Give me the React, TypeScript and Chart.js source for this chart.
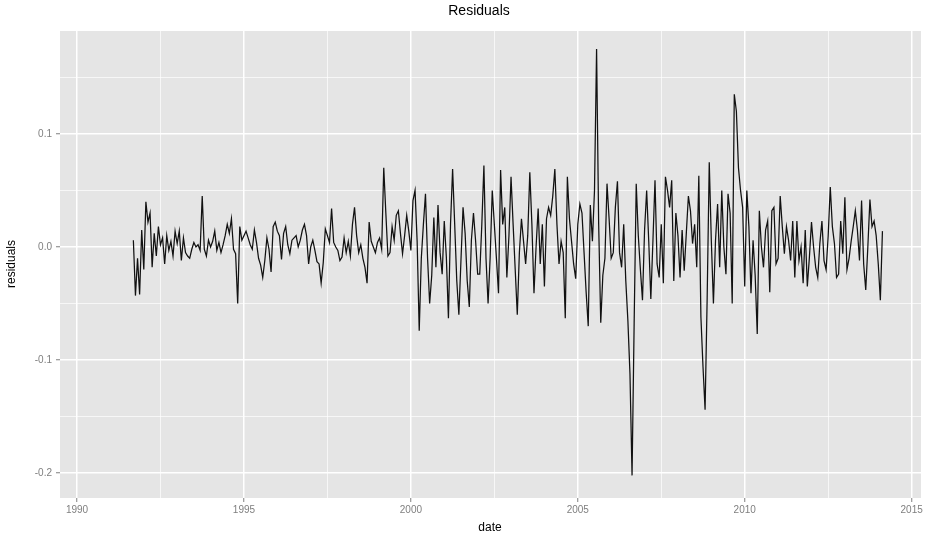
import React, { useEffect, useRef } from 'react';
import { Chart, registerables } from 'chart.js';

Chart.register(...registerables);

// Residual series (in thousandths), regularly spaced 16 steps per year
const START_YEAR = 1991.6875;
const STEPS_PER_YEAR = 16;
const residualsMilli: number[] = [
  // 1991
  6, -43, -10, -42, 15, -20,
  // 1992
  40, 22, 30, -18, 12, -8, 18, 2, 8, -15, 10, -3, 5, -8, 14, 3,
  // 1993
  14, -12, 8, -5, -8, -10, -2, 4, 0, 2, -3, 45, -2, -8, 6, 0,
  // 1994
  5, 14, -3, 4, -5, 2, 10, 20, 12, 25, -2, -6, -50, 18, 6, 10,
  // 1995
  14, 8, 2, -2, 15, 4, -10, -16, -27, -12, 8, -2, -22, 18, 22, 14,
  // 1996
  10, -11, 12, 18, 2, -6, 6, 8, 10, 0, 6, 15, 20, 10, -15, 0,
  // 1997
  6, -3, -13, -15, -32, -14, 16, 10, 4, 34, 4, 0, -3, -12, -9, 8,
  // 1998
  -5, 5, -8, 20, 35, 10, -5, 2, -10, -18, -32, 22, 5, 0, -5, 4,
  // 1999
  8, -2, 70, 30, -8, -5, 18, 6, 28, 32, 12, -6, 10, 28, 14, -3,
  // 2000
  41, 50, 5, -74, -10, 20, 47, -10, -50, -25, 26, -18, 37, -5, -24, 23,
  // 2001
  -9, -63, 20, 69, 20, -30, -60, -12, 35, 12, -30, -53, 6, 30, 6, -24,
  // 2002
  -24, 20, 72, -10, -50, -9, 50, 20, -10, -41, 68, 20, 35, -27, 10,
  // 2003
  62, 20, -20, -60, -5, 25, 5, -15, 10, 66, 20, -41, 0, 34, -15, 20,
  // 2004
  -35, 25, 35, 28, 45, 69, 20, -15, 5, -5, -63, 62, 25, 5, -15, -28,
  // 2005
  20, 38, 30, -5, -40, -70, 37, 5, 50, 175, 20, -67, -25, -10, 56, 25,
  // 2006
  -10, -5, 35, 58, -5, -18, 20, -30, -65, -112, -202, -68, 56, 10, -20, -47,
  // 2007
  15, 50, 5, -46, 5, 59, -15, -27, 20, -32, 62, 50, 35, 59, -30, 30,
  // 2008
  10, -27, 15, -21, 12, 45, 32, 3, 20, -18, 63, -62, -106, -144, -45, 75,
  // 2009
  5, -50, 6, 38, -18, 50, 0, -24, 47, 30, -50, 135, 120, 70, 50, 35,
  // 2010
  -35, 50, 18, -41, 6, -25, -77, 32, 0, -18, 15, 23, -40, 32, 35, -15,
  // 2011
  -10, 45, 18, -6, 18, 6, -12, 23, -27, 23, -12, 0, -32, 15, -35, -9,
  // 2012
  22, 0, -18, -27, 3, 23, -12, -20, 10, 53, 18, 3, -27, -24, 23, -6,
  // 2013
  44, -20, -10, 5, 18, 32, 15, -12, 41, -15, -38, 0, 42, 18, 23, 10,
  // 2014
  -15, -47, 14,
];

const xMajorTicks = [1990, 1995, 2000, 2005, 2010, 2015];
const xMajorLabels = ['1990', '1995', '2000', '2005', '2010', '2015'];
const xMinorTicks = [1992.5, 1997.5, 2002.5, 2007.5, 2012.5];
const yMajorTicks = [-0.2, -0.1, 0.0, 0.1];
const yMajorLabels = ['-0.2', '-0.1', '0.0', '0.1'];
const yMinorTicks = [-0.15, -0.05, 0.05, 0.15];

const TITLE = 'Residuals';
const X_TITLE = 'date';
const Y_TITLE = 'residuals';

const X_MIN = 1989.49;
const X_MAX = 2015.28;
const Y_MIN = -0.222;
const Y_MAX = 0.191;

const FONT = '"Liberation Sans", Arial, sans-serif';

const near = (a: number, b: number) => Math.abs(a - b) < 1e-9;
const majorIndex = (list: number[], v: number) => list.findIndex((m) => near(m, v));

const decorPlugin = {
  id: 'decor',
  beforeDraw(chart: any) {
    const { ctx, chartArea: a } = chart;
    ctx.save();
    ctx.fillStyle = '#FFFFFF';
    ctx.fillRect(0, 0, chart.width, chart.height);
    ctx.fillStyle = '#E5E5E5';
    ctx.fillRect(a.left, a.top, a.right - a.left, a.bottom - a.top);
    ctx.restore();
  },
  afterDraw(chart: any) {
    const { ctx } = chart;
    ctx.save();
    ctx.fillStyle = '#000000';
    ctx.textAlign = 'center';
    ctx.textBaseline = 'middle';
    ctx.font = `14px ${FONT}`;
    ctx.fillText(TITLE, 479, 11);
    ctx.font = `12px ${FONT}`;
    ctx.fillText(X_TITLE, 490, 528);
    ctx.translate(12, 264);
    ctx.rotate(-Math.PI / 2);
    ctx.fillText(Y_TITLE, 0, 0);
    ctx.restore();
  },
};

export default function App() {
  const canvasRef = useRef<HTMLCanvasElement | null>(null);

  useEffect(() => {
    const canvas = canvasRef.current;
    if (!canvas) return;
    const points = residualsMilli.map((v, i) => ({
      x: START_YEAR + i / STEPS_PER_YEAR,
      y: v / 1000,
    }));
    const xAll = [...xMajorTicks, ...xMinorTicks].sort((a, b) => a - b);
    const yAll = [...yMajorTicks, ...yMinorTicks].sort((a, b) => a - b);

    const chart = new Chart(canvas, {
      type: 'line',
      data: {
        datasets: [
          {
            data: points,
            borderColor: '#111111',
            borderWidth: 1.25,
            pointRadius: 0,
            tension: 0,
            fill: false,
          },
        ],
      },
      options: {
        animation: false,
        responsive: false,
        maintainAspectRatio: false,
        layout: { padding: { top: 31, right: 7, left: 0, bottom: 0 } },
        plugins: {
          legend: { display: false },
          title: { display: false },
          tooltip: { enabled: false },
        },
        scales: {
          x: {
            type: 'linear',
            min: X_MIN,
            max: X_MAX,
            afterBuildTicks: (scale: any) => {
              scale.ticks = xAll.map((v) => ({ value: v }));
            },
            afterFit: (scale: any) => {
              scale.height = 43;
            },
            border: { display: false },
            grid: {
              color: '#FFFFFF',
              lineWidth: (c: any) => (majorIndex(xMajorTicks, c.tick?.value) >= 0 ? 1.5 : 0.7),
              drawTicks: true,
              tickLength: 4,
              tickWidth: 1,
              tickColor: (c: any) =>
                majorIndex(xMajorTicks, c.tick?.value) >= 0 ? '#7F7F7F' : 'rgba(0,0,0,0)',
            },
            ticks: {
              autoSkip: false,
              maxRotation: 0,
              padding: 2,
              color: '#7F7F7F',
              font: { family: FONT, size: 10 },
              callback: (v: any) => {
                const i = majorIndex(xMajorTicks, Number(v));
                return i >= 0 ? xMajorLabels[i] : '';
              },
            },
          },
          y: {
            type: 'linear',
            min: Y_MIN,
            max: Y_MAX,
            afterBuildTicks: (scale: any) => {
              scale.ticks = yAll.map((v) => ({ value: v }));
            },
            afterFit: (scale: any) => {
              scale.width = 60;
            },
            border: { display: false },
            grid: {
              color: '#FFFFFF',
              lineWidth: (c: any) => (majorIndex(yMajorTicks, c.tick?.value) >= 0 ? 1.5 : 0.7),
              drawTicks: true,
              tickLength: 4,
              tickWidth: 1,
              tickColor: (c: any) =>
                majorIndex(yMajorTicks, c.tick?.value) >= 0 ? '#7F7F7F' : 'rgba(0,0,0,0)',
            },
            ticks: {
              autoSkip: false,
              padding: 4,
              color: '#7F7F7F',
              font: { family: FONT, size: 10 },
              callback: (v: any) => {
                const i = majorIndex(yMajorTicks, Number(v));
                return i >= 0 ? yMajorLabels[i] : '';
              },
            },
          },
        },
      },
      plugins: [decorPlugin],
    } as any);

    return () => chart.destroy();
  }, []);

  return (
    <div style={{ position: 'absolute', left: 0, top: 0, width: 928, height: 541 }}>
      <canvas ref={canvasRef} width={928} height={541} style={{ display: 'block' }} />
    </div>
  );
}
